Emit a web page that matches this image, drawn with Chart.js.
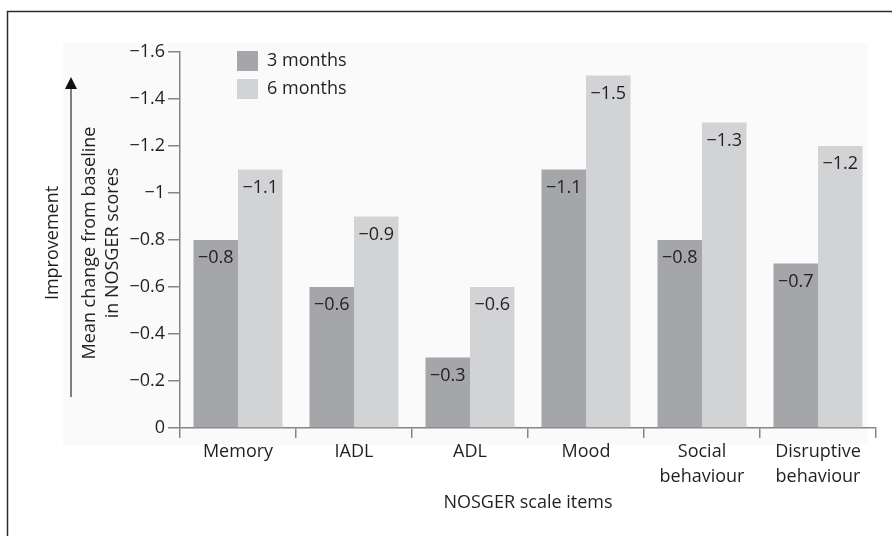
<!DOCTYPE html>
<html>
<head>
<meta charset="utf-8">
<script src="https://cdn.jsdelivr.net/npm/chart.js@4.4.1/dist/chart.umd.min.js"></script>
<style>
  html, body { margin: 0; padding: 0; background: #fff; }
  #wrap { width: 892px; height: 536px; }
</style>
</head>
<body>
<div id="wrap"><canvas id="chart" width="892" height="536"></canvas></div>
<script>
const categories = ['Memory', 'IADL', 'ADL', 'Mood', ['Social', 'behaviour'], ['Disruptive', 'behaviour']];
const threeMonths = [-0.8, -0.6, -0.3, -1.1, -0.8, -0.7];
const sixMonths = [-1.1, -0.9, -0.6, -1.5, -1.3, -1.2];
const seriesNames = ['3 months', '6 months'];
const yTicks = [0, -0.2, -0.4, -0.6, -0.8, -1, -1.2, -1.4, -1.6];

const FONT = "'Open Sans', 'DejaVu Sans', sans-serif";
const TEXT = '#231f20';
const AXIS = '#858585';

function fmt(v) {
  const r = Math.round(v * 10) / 10;
  if (r === 0) return '0';
  return String(r).replace('-', '\u2212');
}

// frame, light panel, axis titles, arrow, legend, value labels
const decorations = {
  id: 'decorations',
  beforeDraw(chart) {
    const ctx = chart.ctx;
    ctx.save();
    ctx.fillStyle = '#ffffff';
    ctx.fillRect(0, 0, chart.width, chart.height);
    ctx.fillStyle = '#fafafa';
    ctx.fillRect(63, 43, 805, 402);
    ctx.strokeStyle = '#2b2b2b';
    ctx.lineWidth = 1.5;
    ctx.strokeRect(7.5, 11.5, 1000, 1000);
    ctx.restore();
  },
  afterDraw(chart) {
    const ctx = chart.ctx;
    ctx.save();
    ctx.fillStyle = TEXT;
    ctx.font = '18px ' + FONT;
    ctx.textAlign = 'center';
    ctx.textBaseline = 'middle';

    // rotated y titles
    const cy = 243;
    [[53, 'Improvement'], [90, 'Mean change from baseline'], [113, 'in NOSGER scores']].forEach(([x, t]) => {
      ctx.save();
      ctx.translate(x, cy);
      ctx.rotate(-Math.PI / 2);
      ctx.fillText(t, 0, 0);
      ctx.restore();
    });

    // arrow
    ctx.strokeStyle = '#555';
    ctx.lineWidth = 1.5;
    ctx.beginPath();
    ctx.moveTo(71, 397);
    ctx.lineTo(71, 86);
    ctx.stroke();
    ctx.fillStyle = '#111';
    ctx.beginPath();
    ctx.moveTo(71, 77);
    ctx.lineTo(65, 89);
    ctx.lineTo(77, 89);
    ctx.closePath();
    ctx.fill();

    // legend
    chart.data.datasets.forEach((ds, i) => {
      const y = 51 + i * 28;
      ctx.fillStyle = ds.backgroundColor;
      ctx.fillRect(237, y, 21, 20);
      ctx.fillStyle = TEXT;
      ctx.textAlign = 'left';
      ctx.fillText(ds.label, 267, y + 10);
    });

    // value labels inside bars
    ctx.textAlign = 'center';
    ctx.fillStyle = TEXT;
    chart.data.datasets.forEach((ds, i) => {
      chart.getDatasetMeta(i).data.forEach((bar, j) => {
        ctx.fillText(fmt(ds.data[j]), bar.x, bar.y + 18);
      });
    });
    ctx.restore();
  }
};

new Chart(document.getElementById('chart'), {
  type: 'bar',
  data: {
    labels: categories,
    datasets: [
      { label: seriesNames[0], data: threeMonths, backgroundColor: '#a5a6a9', borderWidth: 0 },
      { label: seriesNames[1], data: sixMonths, backgroundColor: '#d2d3d5', borderWidth: 0 }
    ]
  },
  options: {
    responsive: false,
    animation: false,
    categoryPercentage: 0.767,
    barPercentage: 1,
    layout: { padding: { left: 120, right: 16, top: 52, bottom: 0 } },
    plugins: {
      legend: { display: false },
      tooltip: { enabled: false }
    },
    scales: {
      x: {
        grid: { display: true, drawOnChartArea: false, drawTicks: true, tickLength: 10, color: AXIS, lineWidth: 1.5 },
        border: { display: true, color: AXIS, width: 1.5 },
        ticks: { color: TEXT, font: { family: FONT, size: 18, lineHeight: 1.35 }, padding: 2, maxRotation: 0, autoSkip: false },
        title: { display: true, text: 'NOSGER scale items', color: TEXT, font: { family: FONT, size: 18 }, padding: { top: 0, bottom: 22 } },
        afterFit(scale) { scale.height = 108; }
      },
      y: {
        min: -1.6,
        max: 0,
        reverse: true,
        afterBuildTicks(scale) { scale.ticks = yTicks.map(v => ({ value: v })); },
        grid: { display: true, drawOnChartArea: false, drawTicks: true, tickLength: 12, color: AXIS, lineWidth: 1.5 },
        border: { display: true, color: AXIS, width: 1.5 },
        ticks: { color: TEXT, font: { family: FONT, size: 18 }, padding: 3, callback: v => fmt(v) },
        afterFit(scale) { scale.width = 60; }
      }
    }
  },
  plugins: [decorations]
});
</script>
</body>
</html>
